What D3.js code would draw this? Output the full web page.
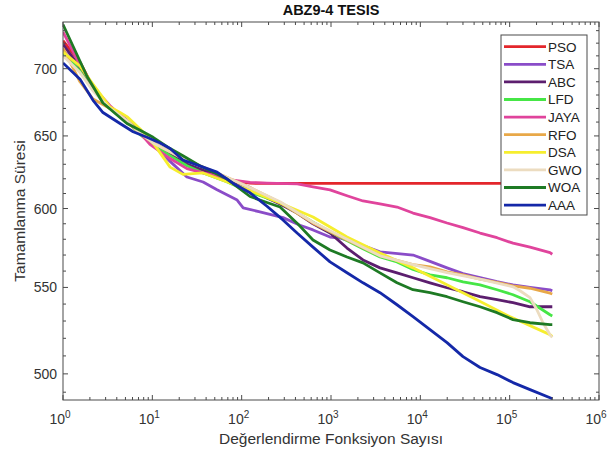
<!DOCTYPE html>
<html><head><meta charset="utf-8">
<script src="https://cdn.jsdelivr.net/npm/d3@7"></script>
<style>
html,body{margin:0;padding:0;background:#fff;}
svg{display:block;font-family:"Liberation Sans",Arial,sans-serif;}
</style></head>
<body><svg id="c" width="608" height="454"></svg>
<script>
const seriesNames = ["PSO","TSA","ABC","LFD","JAYA","RFO","DSA","GWO","WOA","AAA"];
const seriesColors = ["#e3262b","#8a4cc8","#5c1e6e","#46e646","#e0449c","#e8a848","#f6ee2e","#ecdcc0","#1e7a24","#1428a8"];
const xTickValues = [1,10,100,1000,10000,100000,1000000];
const xTickExponents = ["0","1","2","3","4","5","6"];
const yTickValues = [500,550,600,650,700];

const psoData = [[1,722],[1.55,705],[2.17,686],[3.36,671],[5.2,661],[7.3,652],[10.2,645],[15.8,638],[24.4,630],[37,625],[53,621],[80,618.5],[124,617],[192,616.8],[300000,616.8]];
const tsaData = [[1,714],[1.55,700],[2.17,685],[3.36,671],[5.2,661],[7.3,652],[10.2,644],[15.8,632],[24.4,621.2],[37,617.8],[53,612.5],[89,605.6],[104,600.4],[160,597.8],[290,594],[450,589],[629,586],[975,581.4],[1262,580.8],[2282,576],[3536,572],[8280,570],[12830,566],[19900,562],[30050,558.5],[46600,556],[72200,553.5],[109000,551.5],[169000,550],[283000,548.5],[300000,548]];
const abcData = [[1,719],[1.55,701],[2.17,685],[3.36,671],[5.2,661],[7.3,653],[10.2,645],[15.8,637],[24.4,630],[37,626],[68,620],[124,614],[192,607],[269,603],[417,597],[629,590],[975,584],[1511,574.4],[2282,566.9],[3536,562],[5480,558.9],[8280,555.9],[12830,552.8],[19900,549.8],[30050,547.4],[46600,544.4],[72200,542.6],[109000,540.8],[169000,538.4],[300000,538.4]];
const lfdData = [[1,712],[1.55,698],[2.17,684],[3.36,671],[5.2,661],[7.3,651],[10.2,644],[15.8,636],[24.4,629],[37,624],[68,618],[124,611],[269,604],[629,591],[1262,581.4],[2282,574],[3536,568.8],[5480,565.7],[8280,561],[12830,557.7],[19900,555.9],[30050,553.4],[46600,551.6],[72200,548.6],[109000,545.6],[169000,541.4],[283000,533.7],[300000,533]];
const jayaData = [[1,729],[1.55,703],[2.17,686],[3.36,672],[5.2,661],[7.3,652],[9.4,644],[15.8,634],[24.4,627],[37,624],[53,622],[80,619],[124,617.5],[192,617],[420,616.5],[629,614.5],[975,612.5],[1511,608.5],[2282,605],[3536,603],[5480,601],[8280,597],[12830,594],[19900,590.5],[30050,587.5],[46600,584],[72200,581],[109000,577.5],[169000,575],[283000,571.5],[300000,570.5]];
const rfoData = [[1,716],[1.55,690],[2.17,677],[3.36,670],[5.2,660],[7.3,652],[10.2,645],[22,634],[53,624],[124,614],[269,604],[629,590.4],[1511,579.5],[3536,569.5],[8280,564],[12830,562.6],[19900,559.5],[30050,557.7],[46600,555],[72200,553],[109000,551],[169000,549.5],[283000,546.5],[300000,546]];
const dsaData = [[1,713],[1.55,702],[2.17,688],[3.36,671],[4.35,667],[5.2,664],[7.3,655],[10.2,645],[15.8,628],[22,623],[37,624],[68,618],[124,612],[269,603.7],[629,594.4],[1511,581.4],[3536,571.3],[8280,562],[17900,552.8],[42800,542.6],[100000,532.6],[283000,522.1],[300000,521]];
const gwoData = [[1,710],[1.55,697],[2.17,683],[3.36,670],[5.2,661],[7.3,652],[10.2,645],[22,634],[53,624],[124,614],[269,604.5],[629,591],[1511,580],[3536,569.5],[8280,564],[19900,559],[46600,555],[109000,550.4],[130600,548],[169000,543.8],[202000,536.6],[236000,529],[283000,522],[300000,520.5]];
const woaData = [[1,735],[1.86,694],[2.8,674],[5.2,659],[7.3,654],[10.2,649],[15.8,641],[22,636],[34,629],[68,620],[124,608],[192,604],[269,601],[417,590.4],[629,579.5],[975,573.2],[1511,568.8],[2282,565.1],[3536,558.9],[5480,552.8],[8280,548.6],[12830,546.8],[19900,544.4],[30050,541.4],[46600,538.4],[72200,534.9],[109000,530.8],[169000,529],[283000,527.9],[300000,527.9]];
const aaaData = [[1,704.5],[1.55,692],[2.17,676],[2.8,667],[4.35,659],[6.1,653],[8.7,649],[12.2,645],[15.8,641],[22,633],[37,628],[53,624.6],[80,617],[124,610.5],[192,601.5],[290,592.5],[417,584],[629,575],[975,565.7],[1511,559],[2282,552.8],[3536,546.8],[5480,539.6],[8280,532.6],[12830,525],[19900,517.5],[30050,509.6],[46600,503.5],[72200,499.6],[109000,495.2],[169000,491.4],[283000,487],[300000,486.5]];

const allData = [psoData,tsaData,abcData,lfdData,jayaData,rfoData,dsaData,gwoData,woaData,aaaData];

const L = 63, R = 599, T = 22, B = 400;
const svg = d3.select("#c");
const x = d3.scaleLog().domain([1,1e6]).range([L,R]);
const y = d3.scaleLog().domain([485.8,737]).range([B,T]);
const axisColor = "#4a4a4a";

svg.append("rect").attr("x",L).attr("y",T).attr("width",R-L).attr("height",B-T).attr("fill","#fff");
svg.append("clipPath").attr("id","clip").append("rect").attr("x",L).attr("y",T).attr("width",R-L).attr("height",B-T);

const line = d3.line().x(d=>x(d[0])).y(d=>y(d[1]));
const g = svg.append("g").attr("clip-path","url(#clip)");
allData.forEach((data,i)=>{
  g.append("path").datum(data).attr("d",line).attr("fill","none")
   .attr("stroke",seriesColors[i]).attr("stroke-width",2.8).attr("stroke-linejoin","round");
});

const minorX = [];
for (let e=0;e<6;e++) for (let k=2;k<=9;k++) minorX.push(k*Math.pow(10,e));
const minorY = d3.range(490,737,10).filter(v=>yTickValues.indexOf(v)<0);

const axG = svg.append("g").attr("stroke",axisColor).attr("stroke-width",1);
axG.append("rect").attr("x",L).attr("y",T).attr("width",R-L).attr("height",B-T).attr("fill","none");
xTickValues.forEach(v=>{
  axG.append("line").attr("x1",x(v)).attr("x2",x(v)).attr("y1",B).attr("y2",B-5);
  axG.append("line").attr("x1",x(v)).attr("x2",x(v)).attr("y1",T).attr("y2",T+5);
});
minorX.forEach(v=>{
  axG.append("line").attr("x1",x(v)).attr("x2",x(v)).attr("y1",B).attr("y2",B-3);
  axG.append("line").attr("x1",x(v)).attr("x2",x(v)).attr("y1",T).attr("y2",T+3);
});
yTickValues.forEach(v=>{
  axG.append("line").attr("x1",L).attr("x2",L+5).attr("y1",y(v)).attr("y2",y(v));
  axG.append("line").attr("x1",R).attr("x2",R-5).attr("y1",y(v)).attr("y2",y(v));
});
minorY.forEach(v=>{
  axG.append("line").attr("x1",L).attr("x2",L+3).attr("y1",y(v)).attr("y2",y(v));
  axG.append("line").attr("x1",R).attr("x2",R-3).attr("y1",y(v)).attr("y2",y(v));
});

yTickValues.forEach(v=>{
  svg.append("text").attr("x",L-6).attr("y",y(v)+5).attr("text-anchor","end")
    .attr("font-size",14).attr("fill","#333").text(v);
});
xTickValues.forEach((v,i)=>{
  const t = svg.append("text").attr("x",x(v)-3).attr("y",424).attr("text-anchor","middle")
    .attr("font-size",14).attr("fill","#333");
  t.append("tspan").text("10");
  t.append("tspan").attr("dy",-6).attr("font-size",10).text(xTickExponents[i]);
});

svg.append("text").attr("x",(L+R)/2).attr("y",15).attr("text-anchor","middle")
  .attr("font-size",14.5).attr("font-weight","bold").attr("fill","#111").text("ABZ9-4 TESIS");
svg.append("text").attr("x",(L+R)/2).attr("y",444).attr("text-anchor","middle")
  .attr("font-size",15.5).attr("fill","#333").text("Değerlendirme Fonksiyon Sayısı");
svg.append("text").attr("transform",`translate(25,${(T+B)/2}) rotate(-90)`).attr("text-anchor","middle")
  .attr("font-size",15.5).attr("fill","#333").text("Tamamlanma Süresi");

const lg = svg.append("g");
lg.append("rect").attr("x",501).attr("y",35).attr("width",86).attr("height",180)
  .attr("fill","#fff").attr("stroke",axisColor).attr("stroke-width",1);
seriesNames.forEach((n,i)=>{
  const yy = 46.7 + i*17.6;
  lg.append("line").attr("x1",504).attr("x2",546).attr("y1",yy).attr("y2",yy)
    .attr("stroke",seriesColors[i]).attr("stroke-width",2.8);
  lg.append("text").attr("x",548).attr("y",yy+4.8).attr("font-size",13.5).attr("fill","#222").text(n);
});
</script></body></html>
